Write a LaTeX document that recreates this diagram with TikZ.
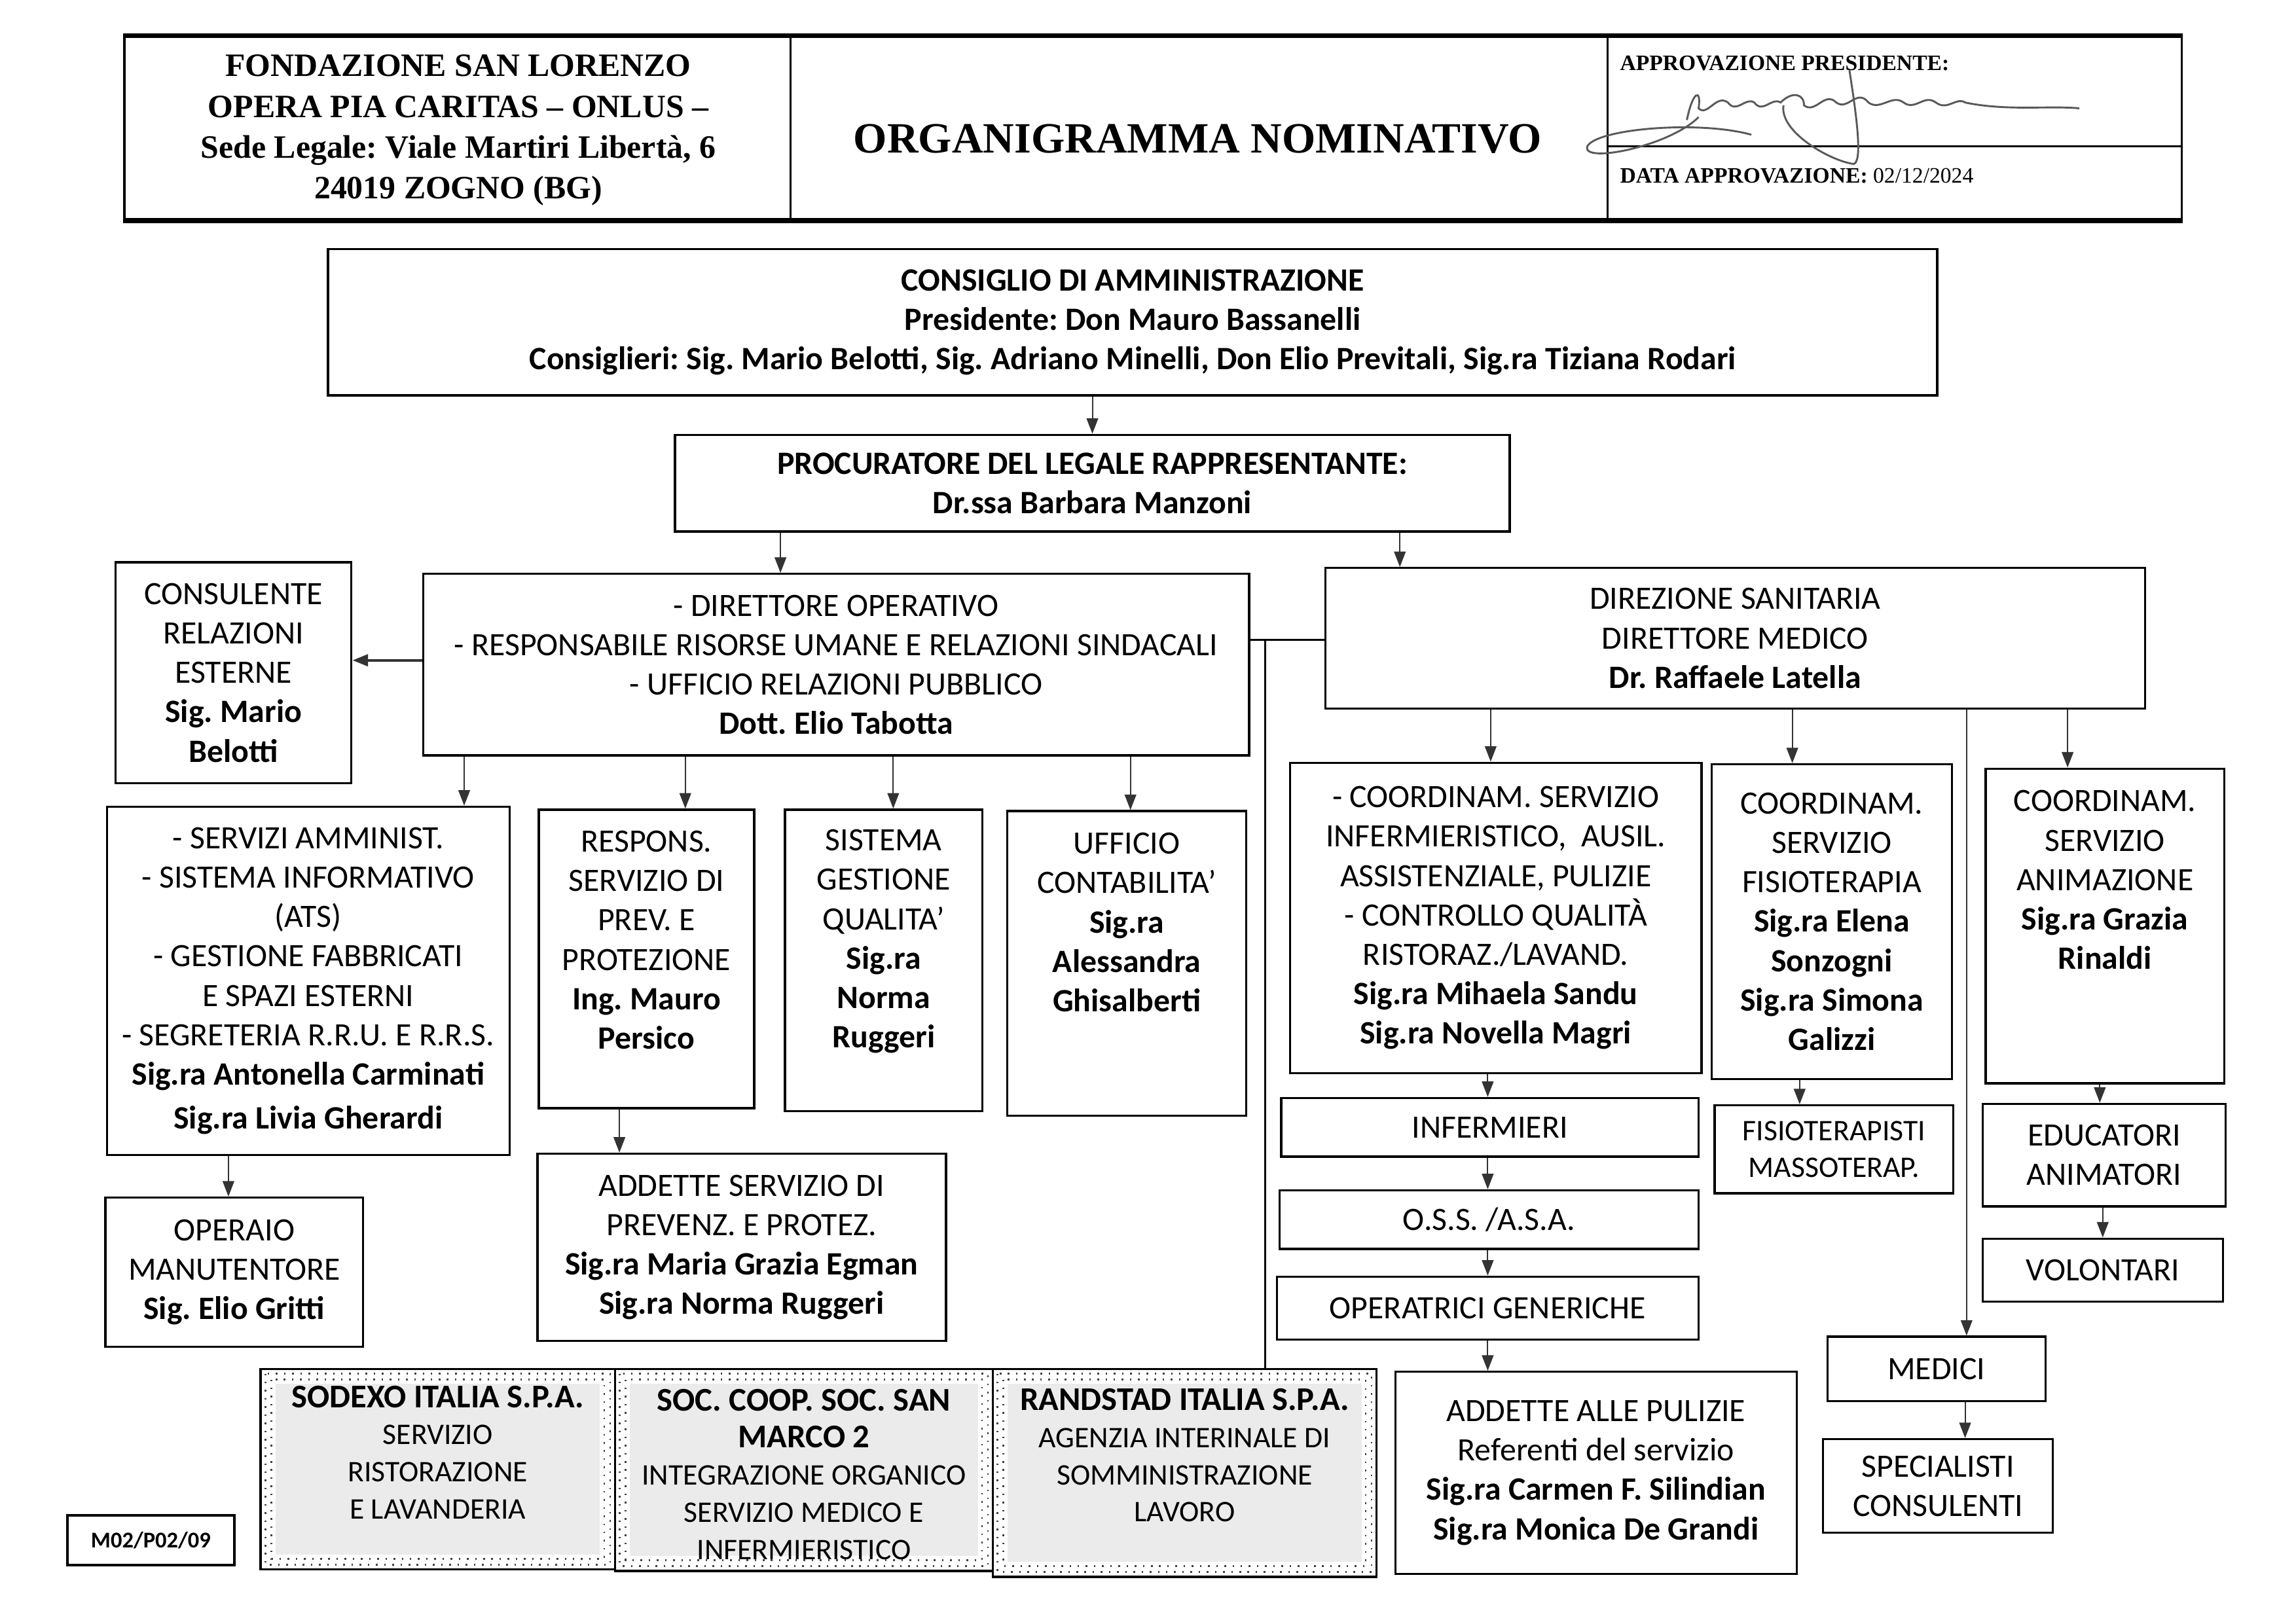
\documentclass[tikz,border=0pt]{standalone}
\usepackage{fontspec}
\setmainfont{Carlito}
\newfontfamily\tnr{Liberation Serif}
\usetikzlibrary{arrows.meta}
\frenchspacing

\newcommand\bodyfont{\fontsize{12}{14.5}\selectfont}
\newcommand\smallfont{\fontsize{11}{13.7}\selectfont}
\newcommand\extb[1]{{\fontsize{12.2}{13.7}\selectfont\bfseries #1}}

\tikzset{
  box/.style={draw, line width=0.8pt, align=center, inner sep=1pt, font=\bodyfont},
  bbox/.style={box, font=\bodyfont\bfseries},
  sz/.style 2 args={minimum width=#1*0.18941mm, minimum height=#2*0.18941mm},
  txt/.style={align=center, inner sep=0pt, font=\bodyfont},
  arr/.style={-{Triangle[length=2mm,width=1.5mm]}, line width=0.5pt, draw=black!80, fill=black!80},
  ext/.style={draw, line width=0.8pt, fill=white},
  dots/.style={draw=black!75, line width=0.6pt, dash pattern=on 0.6pt off 2.4pt},
  hcell/.style={draw, line width=0.8pt, inner sep=0pt},
  sig/.style={draw=black!65, line width=0.7pt}
}

\begin{document}
\begin{tikzpicture}[x=0.18941mm, y=-0.18941mm]
\useasboundingbox (0,0) rectangle (1568,1109);

% header
\node[hcell, sz={455}{125}] (hleft) at (312.5,87.5) {};
\node[align=center, inner sep=0pt, font=\tnr\bfseries\fontsize{12}{15}\selectfont] (hleft-t) at (313,89)
  {FONDAZIONE SAN LORENZO\\OPERA PIA CARITAS – ONLUS –\\Sede Legale: Viale Martiri Libertà, 6\\24019 ZOGNO (BG)};
\node[hcell, sz={558}{125}] (htitle) at (819,87.5) {};
\node[inner sep=0pt, font=\tnr\bfseries\fontsize{15.9}{18}\selectfont] (htitle-t) at (818,95) {ORGANIGRAMMA NOMINATIVO};
\node[hcell, sz={392}{75}] (happ) at (1294,62.5) {};
\node[hcell, sz={392}{50}] (hdata) at (1294,125) {};
\node[anchor=west, inner sep=0pt, font=\tnr\bfseries\fontsize{8.1}{9}\selectfont] (happ-t) at (1106,43) {APPROVAZIONE PRESIDENTE:};
\node[anchor=west, inner sep=0pt, font=\tnr\fontsize{8.1}{9}\selectfont] (hdata-t) at (1106,120) {\textbf{DATA APPROVAZIONE:} 02/12/2024};
\draw[line width=1.8pt] (hleft.north west) -- (happ.north east);
\draw[line width=1.8pt] (hleft.south west) -- (hdata.south east);

% signature
\draw[sig] (1152,82) .. controls (1156,62) and (1162,60) .. (1160,74)
  .. controls (1166,80) and (1172,64) .. (1180,70)
  .. controls (1186,78) and (1192,66) .. (1198,70)
  .. controls (1204,78) and (1210,66) .. (1216,70)
  .. controls (1224,62) and (1232,64) .. (1232,72)
  .. controls (1240,78) and (1246,62) .. (1254,70)
  .. controls (1262,76) and (1268,60) .. (1276,70)
  .. controls (1284,76) and (1292,64) .. (1300,70)
  .. controls (1308,76) and (1314,64) .. (1322,70)
  .. controls (1330,76) and (1336,66) .. (1342,70)
  .. controls (1370,76) and (1400,72) .. (1420,74);
\draw[sig] (1160,80) .. controls (1140,100) and (1080,112) .. (1084,100)
  .. controls (1090,88) and (1160,82) .. (1196,92);
\draw[sig] (1263,48) .. controls (1268,80) and (1272,110) .. (1266,112)
  .. controls (1250,110) and (1215,90) .. (1218,72);

% vertici
\node[bbox, sz={1099}{100}] (cda) at (773.5,220)
  {CONSIGLIO DI AMMINISTRAZIONE\\Presidente: Don Mauro Bassanelli\\Consiglieri: Sig. Mario Belotti, Sig. Adriano Minelli, Don Elio Previtali, Sig.ra Tiziana Rodari};
\node[bbox, sz={570}{66}] (proc) at (746,330) {PROCURATORE DEL LEGALE RAPPRESENTANTE:\\Dr.ssa Barbara Manzoni};
\node[box, sz={564}{124}] (dirop) at (571,454)
  {- DIRETTORE OPERATIVO\\- RESPONSABILE RISORSE UMANE E RELAZIONI SINDACALI\\- UFFICIO RELAZIONI PUBBLICO\\\textbf{Dott. Elio Tabotta}};
\node[box, sz={161}{151}] (cons) at (159.5,459.5)
  {CONSULENTE\\RELAZIONI\\ESTERNE\\\textbf{Sig. Mario}\\\textbf{Belotti}};
\node[box, sz={560}{96}] (dsan) at (1185,436)
  {DIREZIONE SANITARIA\\DIRETTORE MEDICO\\\textbf{Dr. Raffaele Latella}};

\node[box, sz={275}{238}] (serv) at (210.5,670)
  {- SERVIZI AMMINIST.\\- SISTEMA INFORMATIVO\\(ATS)\\- GESTIONE FABBRICATI\\E SPAZI ESTERNI\\- SEGRETERIA R.R.U. E R.R.S.\\\textbf{Sig.ra Antonella Carminati}\\[0.6mm]\textbf{Sig.ra Livia Gherardi}};
\node[box, sz={176}{102}] (oper) at (160,869) {OPERAIO\\MANUTENTORE\\\textbf{Sig. Elio Gritti}};
\node[box, sz={147}{204}] (resp) at (441.5,655) {};
\node[txt] (resp-t) at (441.5,642) {RESPONS.\\SERVIZIO DI\\PREV. E\\PROTEZIONE\\\textbf{Ing. Mauro}\\\textbf{Persico}};
\node[box, sz={279}{128}] (adds) at (506.5,852)
  {ADDETTE SERVIZIO DI\\PREVENZ. E PROTEZ.\\\textbf{Sig.ra Maria Grazia Egman}\\\textbf{Sig.ra Norma Ruggeri}};
\node[box, sz={135}{206}] (sist) at (603.5,656) {};
\node[txt] (sist-t) at (603.5,643) {SISTEMA\\GESTIONE\\QUALITA’\\\textbf{Sig.ra}\\\textbf{Norma}\\\textbf{Ruggeri}};
\node[box, sz={163}{208}] (uffc) at (769.5,658) {};
\node[txt] (uffc-t) at (769.5,630) {UFFICIO\\CONTABILITA’\\\textbf{Sig.ra}\\\textbf{Alessandra}\\\textbf{Ghisalberti}};

\node[box, sz={281}{212}] (cinf) at (1021.5,627)
  {- COORDINAM. SERVIZIO\\INFERMIERISTICO,\ \ AUSIL.\\ASSISTENZIALE, PULIZIE\\- CONTROLLO QUALITÀ\\RISTORAZ./LAVAND.\\\textbf{Sig.ra Mihaela Sandu}\\\textbf{Sig.ra Novella Magri}};
\node[box, sz={164}{215}] (cfis) at (1251,629.5)
  {COORDINAM.\\SERVIZIO\\FISIOTERAPIA\\\textbf{Sig.ra Elena}\\\textbf{Sonzogni}\\\textbf{Sig.ra Simona}\\\textbf{Galizzi}};
\node[box, sz={163}{215}] (cani) at (1437.5,632.5) {};
\node[txt] (cani-t) at (1437.5,601) {COORDINAM.\\SERVIZIO\\ANIMAZIONE\\\textbf{Sig.ra Grazia}\\\textbf{Rinaldi}};

\node[box, sz={285}{40}] (infe) at (1017.5,770) {INFERMIERI};
\node[box, sz={286}{40}] (oss) at (1017,833) {O.S.S. /A.S.A.};
\node[box, sz={288}{43}] (opge) at (1016,893.5) {OPERATRICI GENERICHE};
\node[box, sz={274}{138}] (apul) at (1090,1006)
  {ADDETTE ALLE PULIZIE\\Referenti del servizio\\\textbf{Sig.ra Carmen F. Silindian}\\\textbf{Sig.ra Monica De Grandi}};
\node[box, sz={163}{60}, font=\fontsize{11}{13.4}\selectfont] (fter) at (1252.5,785) {FISIOTERAPISTI\\MASSOTERAP.};
\node[box, sz={166}{70}] (educ) at (1437,789) {EDUCATORI\\ANIMATORI};
\node[box, sz={164}{43}] (volo) at (1436,867.5) {VOLONTARI};
\node[box, sz={149}{44}] (medi) at (1322.5,935) {MEDICI};
\node[box, sz={157}{64}] (spec) at (1323.5,1015) {SPECIALISTI\\CONSULENTI};

% esterni
\node[ext, sz={242}{137}] (sodx) at (299,1003.5) {};
\node[ext, sz={258}{138}] (coop) at (549,1004) {};
\node[ext, sz={262}{142}] (rand) at (809,1006) {};
\foreach \e in {sodx,coop,rand}{
  \fill[gray!16] ([shift={(11,11)}]\e.north west) rectangle ([shift={(-11,-11)}]\e.south east);
  \draw[dots] ([shift={(4,4)}]\e.north west) rectangle ([shift={(-4,-4)}]\e.south east);
  \draw[dots] ([shift={(8,8)}]\e.north west) rectangle ([shift={(-8,-8)}]\e.south east);
}
\node[txt, font=\smallfont] (sodx-t) at (299,992) {\extb{SODEXO ITALIA S.P.A.}\\SERVIZIO\\RISTORAZIONE\\E LAVANDERIA};
\node[txt, font=\smallfont] (coop-t) at (549,1007) {\extb{SOC. COOP. SOC. SAN}\\\extb{MARCO 2}\\INTEGRAZIONE ORGANICO\\SERVIZIO MEDICO E\\INFERMIERISTICO};
\node[txt, font=\smallfont] (rand-t) at (809,994) {\extb{RANDSTAD ITALIA S.P.A.}\\AGENZIA INTERINALE DI\\SOMMINISTRAZIONE\\LAVORO};

\node[box, sz={114}{34}, font=\fontsize{8.3}{9}\selectfont\bfseries] (code) at (103,1052) {M02/P02/09};

% collegamenti
\draw[arr] (cda.south -| proc.north) -- (proc.north);
\draw[arr] (proc.south -| 533,0) -- (dirop.north -| 533,0);
\draw[arr] (proc.south -| 956,0) -- (dsan.north -| 956,0);
\draw[arr, line width=1pt] (dirop.west |- 0,451) -- (cons.east |- 0,451);
\coordinate (jn) at (864,437);
\draw[line width=0.6pt] (dirop.east |- jn) -- (dsan.west |- jn);
\draw[line width=0.6pt] (jn) -- (rand.north -| jn);

\draw[arr] (dirop.south -| 317,0) -- (serv.north -| 317,0);
\draw[arr] (dirop.south -| 468,0) -- (resp.north -| 468,0);
\draw[arr] (dirop.south -| 610,0) -- (sist.north -| 610,0);
\draw[arr] (dirop.south -| 772,0) -- (uffc.north -| 772,0);
\draw[arr] (serv.south -| 156,0) -- (oper.north -| 156,0);
\draw[arr] (resp.south -| 423,0) -- (adds.north -| 423,0);

\draw[arr] (dsan.south -| 1018,0) -- (cinf.north -| 1018,0);
\draw[arr] (dsan.south -| 1224,0) -- (cfis.north -| 1224,0);
\draw[arr] (dsan.south -| 1412,0) -- (cani.north -| 1412,0);
\draw[arr] (dsan.south -| 1343,0) -- (medi.north -| 1343,0);
\draw[arr] (cinf.south -| 1016,0) -- (infe.north -| 1016,0);
\draw[arr] (infe.south -| 1016,0) -- (oss.north -| 1016,0);
\draw[arr] (oss.south -| 1016,0) -- (opge.north -| 1016,0);
\draw[arr] (opge.south -| 1016,0) -- (apul.north -| 1016,0);
\draw[arr] (cfis.south -| 1229,0) -- (fter.north -| 1229,0);
\draw[arr] (cani.south -| 1434,0) -- (educ.north -| 1434,0);
\draw[arr] (educ.south -| 1436,0) -- (volo.north);
\draw[arr] (medi.south -| 1342,0) -- (spec.north -| 1342,0);
\end{tikzpicture}
\end{document}
